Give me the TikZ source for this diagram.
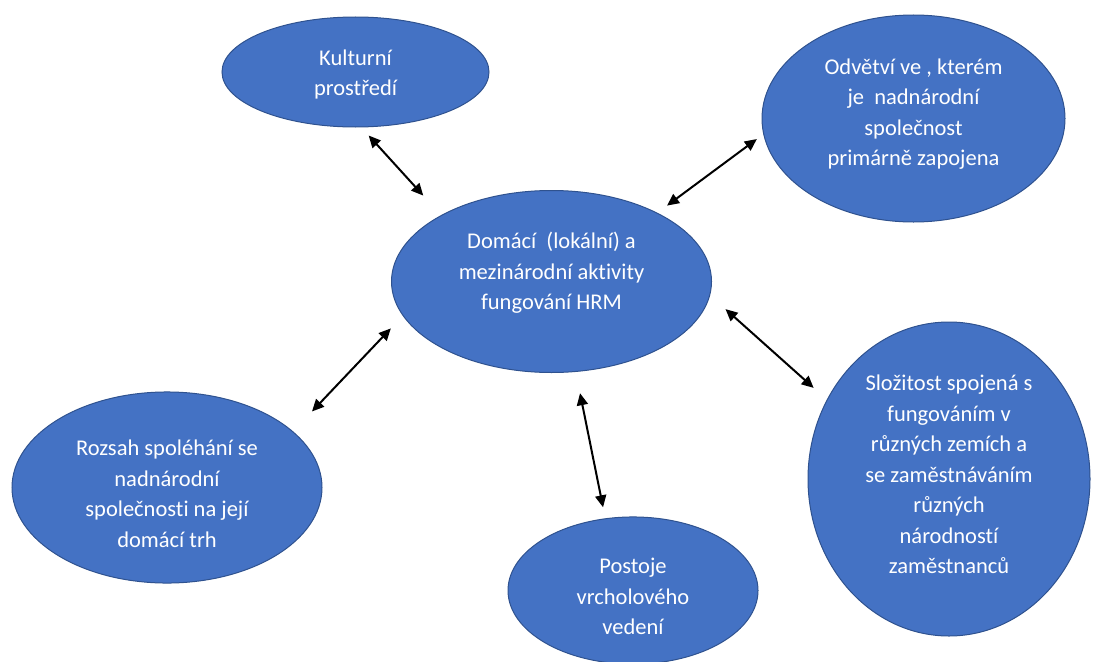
\documentclass[tikz,border=0pt]{standalone}
\usepackage{fontspec}
\setmainfont{Carlito}[Ligatures=NoCommon]
\usepackage{xcolor}
\usepackage{tikz}
\usetikzlibrary{shapes.geometric, arrows.meta}
\definecolor{officeblue}{RGB}{68,114,196}
\definecolor{officeedge}{RGB}{47,82,143}
% invisible struts to place the text block inside an ellipse
\newcommand{\toppad}[1]{\rule{0pt}{#1pt}}
\newcommand{\botpad}[1]{\rule[-#1pt]{0pt}{#1pt}}
\tikzset{
    factor/.style={ellipse, draw=officeedge, line width=1pt, fill=officeblue, text=white, inner sep=0pt, align=center, font=\fontsize{22.5}{30.5}\selectfont},
    link/.style={{Triangle[length=12pt,width=11pt]}-{Triangle[length=12pt,width=11pt]}, line width=2pt, black}
}
\begin{document}
\begin{tikzpicture}[x=1pt, y=-1pt]
    \useasboundingbox (0,0) rectangle (1094,661);
    % Core
    \node[factor, minimum width=320pt, minimum height=182pt] (hrm) at (551.5,281.5) {\toppad{20.6}Domácí\ \ (lokální) a\\mezinárodní aktivity\\fungování HRM\botpad{25}};

    % Surrounding factors
    \node[factor, minimum width=267pt, minimum height=110pt] (kultura) at (355.5,72) {\toppad{24}Kulturní\\prostředí\botpad{7}};
    \node[factor, minimum width=303pt, minimum height=207pt] (odvetvi) at (913.5,118.5) {\toppad{23}Odvětví ve , kterém\\je\ \ nadnárodní\\společnost\\primárně zapojena\botpad{20}};
    \node[factor, minimum width=282pt, minimum height=314pt] (slozitost) at (949,479) {\toppad{21.6}Složitost spojená s\\fungováním v\\různých zemích a\\se zaměstnáváním\\různých\\národností\\zaměstnanců\botpad{15}};
    \node[factor, minimum width=250pt, minimum height=139pt] (postoje) at (633,590.5) {\toppad{35}Postoje\\vrcholového\\vedení\botpad{8}};
    \node[factor, minimum width=310pt, minimum height=185pt] (rozsah) at (167,487.5) {\toppad{35.6}Rozsah spoléhání se\\nadnárodní\\společnosti na její\\domácí trh\botpad{8}};

    % Links
    \draw[link, shorten <=10.9pt, shorten >=26.4pt] (kultura.-84) -- (hrm.149);
    \draw[link, shorten <=8pt, shorten >=12pt] (odvetvi.186) -- (hrm.33);
    \draw[link, shorten <=20.6pt, shorten >=17.6pt] (hrm.-5) -- (slozitost.147);
    \draw[link, shorten <=21.7pt, shorten >=11.2pt] (hrm.-75) -- (postoje.111.5);
    \draw[link, shorten <=17.3pt, shorten >=27.4pt] (hrm.193) -- (rozsah.24);
\end{tikzpicture}
\end{document}
